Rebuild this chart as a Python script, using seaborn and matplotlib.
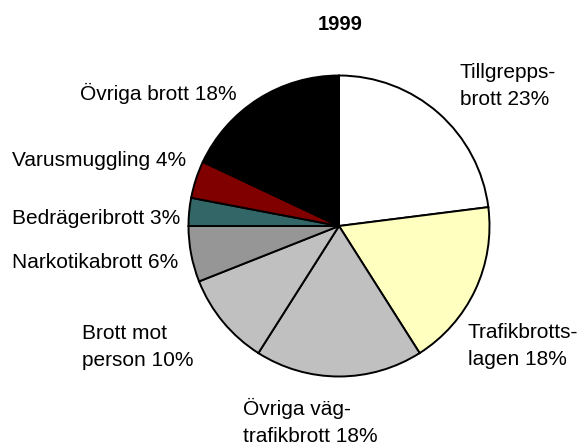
import matplotlib
matplotlib.use("Agg")
import matplotlib.pyplot as plt
import seaborn as sns

# Data (clockwise from 12 o'clock)
categories = ["Tillgrepps-\nbrott", "Trafikbrotts-\nlagen", "Övriga väg-\ntrafikbrott",
              "Brott mot\nperson", "Narkotikabrott", "Bedrägeribrott",
              "Varusmuggling", "Övriga brott"]
values = [23, 18, 18, 10, 6, 3, 4, 18]
title = "1999"

colors = ["#FFFFFF", "#FFFFC0", "#C0C0C0", "#C0C0C0", "#969696", "#336666", "#800000", "#000000"]

sns.set_theme(style="white")
plt.rcParams["font.family"] = ["Liberation Sans", "DejaVu Sans"]

W, H = 582, 445
fig = plt.figure(figsize=(W / 100, H / 100), dpi=100)
fig.patch.set_facecolor("white")

cx, cy, r = 339, 226, 152
ax = fig.add_axes([(cx - r) / W, (H - cy - r) / H, 2 * r / W, 2 * r / H])
ax.pie(values, colors=colors, startangle=90, counterclock=False,
       wedgeprops=dict(edgecolor="black", linewidth=1.4))
ax.set_xlim(-1.01, 1.01)
ax.set_ylim(-1.01, 1.01)
ax.set_aspect("equal")
ax.axis("off")

# label placement in pixel coordinates (left edge, vertical centre)
label_pos = [(460, 86), (468, 346), (243, 422), (82, 347), (12, 263), (12, 218), (12, 160), (80, 93)]
fs = 15
for cat, v, (px, py) in zip(categories, values, label_pos):
    txt = f"{cat} {v}%"
    fig.text(px / W, 1 - py / H, txt, ha="left", va="center", fontsize=fs,
             linespacing=1.5, color="black")

fig.text(340 / W, 1 - 25 / H, title, ha="center", va="center", fontsize=14.5,
         fontweight="bold", color="black")

fig.savefig("out.png", dpi=100, facecolor="white")
